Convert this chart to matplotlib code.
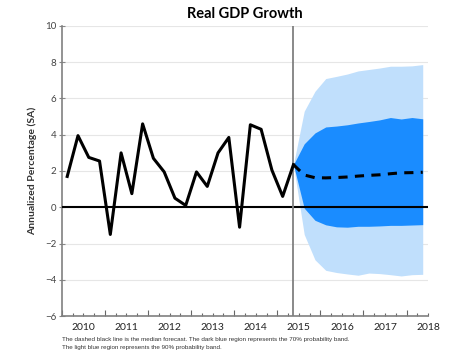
import matplotlib
matplotlib.use("Agg")
import matplotlib.pyplot as plt
from matplotlib.ticker import MultipleLocator, FuncFormatter

# historical quarterly growth (annualized %)
hist_x = [2009.625 + 0.25 * i for i in range(22)]
hist_y = [1.7, 3.95, 2.75, 2.55, -1.5, 3.0, 0.75, 4.6, 2.7, 1.95, 0.5, 0.1,
          1.95, 1.15, 3.0, 3.85, -1.1, 4.55, 4.3, 2.05, 0.6, 2.35]

# forecast, starting at the last observed quarter
fc_x = [2014.875 + 0.25 * i for i in range(13)]
median = [2.35, 1.78, 1.63, 1.62, 1.64, 1.67, 1.72, 1.76, 1.79, 1.85, 1.9, 1.91, 1.93]
band70_hi = [2.35, 3.5, 4.1, 4.43, 4.48, 4.55, 4.65, 4.73, 4.82, 4.95, 4.87, 4.95, 4.88]
band70_lo = [2.35, -0.05, -0.72, -0.97, -1.08, -1.1, -1.05, -1.05, -1.03, -1.0, -1.0, -0.98, -0.96]
band90_hi = [2.35, 5.3, 6.4, 7.1, 7.22, 7.35, 7.52, 7.6, 7.68, 7.78, 7.78, 7.8, 7.87]
band90_lo = [2.35, -1.5, -2.9, -3.48, -3.6, -3.68, -3.75, -3.63, -3.66, -3.72, -3.79, -3.72, -3.7]

yticks = [-6, -4, -2, 0, 2, 4, 6, 8, 10]

plt.rcParams["font.family"] = ["Lato", "DejaVu Sans"]

fig = plt.figure(figsize=(4.72, 3.54), dpi=100)
ax = fig.add_axes([0.131, 0.1073, 0.776, 0.8193])

# === bands ===
ax.fill_between(fc_x, band90_lo, band90_hi, color="#c0dffc", lw=0, zorder=2)
ax.fill_between(fc_x, band70_lo, band70_hi, color="#1a8cff", lw=0, zorder=3)

# === grid / reference lines ===
for v in yticks:
    ax.axhline(v, color="#e6e6e6", lw=0.8, zorder=1)
ax.axhline(0, color="black", lw=1.5, zorder=4)
ax.axvline(2014.875, color="#808080", lw=1.3, zorder=5)

# === lines ===
ax.plot(hist_x, hist_y, color="black", lw=2.2, zorder=6)
ax.plot(fc_x, median, color="black", lw=2.2, dashes=(3, 2.4), zorder=6)

ax.set_xlim(2009.5, 2018.0)
ax.set_ylim(-6, 10)
ax.set_yticks(yticks)

ax.xaxis.set_major_locator(MultipleLocator(1.0, offset=0.5))
ax.xaxis.set_major_formatter(FuncFormatter(lambda v, p: ""))
ax.xaxis.set_minor_locator(MultipleLocator(0.25))
ax.xaxis.set_minor_formatter(
    FuncFormatter(lambda v, p: f"{int(round(v))}" if abs(v - round(v)) < 0.01 else ""))
ax.tick_params(axis="x", which="major", direction="in", length=4, width=0.8, color="#666666")
ax.tick_params(axis="x", which="minor", direction="in", length=2, width=0.8, color="#666666",
               labelsize=7.5, labelcolor="#222222", pad=5)
ax.tick_params(axis="y", direction="inout", length=4, width=0.8, color="#888888",
               labelsize=7, labelcolor="#444444", pad=2)

for s in ["top", "right"]:
    ax.spines[s].set_visible(False)
for s in ["left", "bottom"]:
    ax.spines[s].set_color("#808080")
    ax.spines[s].set_linewidth(1.2)

ax.set_title("Real GDP Growth", fontsize=10.5, fontweight="bold", pad=6)
ax.set_ylabel("Annualized Percentage (SA)", fontsize=7.5, fontweight="bold",
              color="#333333", labelpad=6)

fig.text(0.131, 0.04, "The dashed black line is the median forecast. The dark blue region represents the 70% probability band.",
         fontsize=4.5, family="Liberation Sans", color="#333333", va="center")
fig.text(0.131, 0.017, "The light blue region represents the 90% probability band.",
         fontsize=4.5, family="Liberation Sans", color="#333333", va="center")

fig.savefig("out.png", dpi=100)
